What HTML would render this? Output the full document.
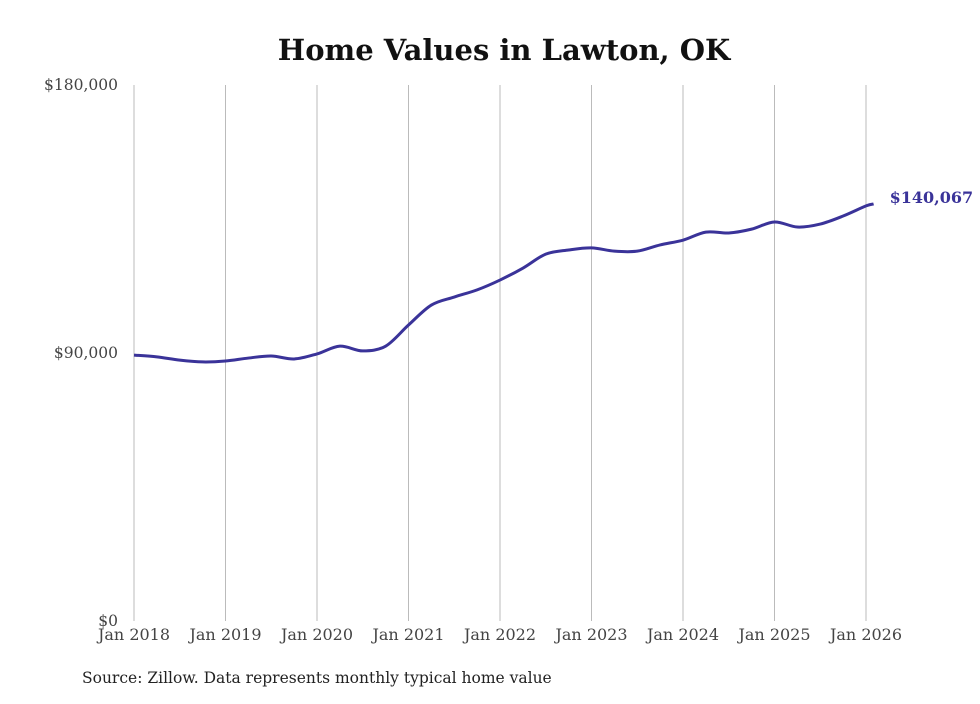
<!DOCTYPE html>
<html><head><meta charset="utf-8"><style>
body{margin:0;background:#fff;}
svg text{font-family:"DejaVu Serif","Liberation Serif",serif;}
</style></head><body>
<svg id="chart" width="980" height="699" viewBox="0 0 980 699" xmlns="http://www.w3.org/2000/svg">
<text x="504" y="60" text-anchor="middle" font-size="29" font-weight="bold" fill="#111">Home Values in Lawton, OK</text>
<g id="grid"></g><g id="yaxis"></g><g id="xaxis"></g>
<path id="line" fill="none" stroke="#3a3399" stroke-width="3" stroke-linejoin="round"/>
<text id="endlabel" font-size="16" font-weight="bold" fill="#3a3399"></text>
<text x="82" y="683" font-size="15.5" fill="#222">Source: Zillow. Data represents monthly typical home value</text>
</svg>
<script>
const dates=[2018,2018.25,2018.5,2018.75,2019,2019.25,2019.5,2019.75,2020,2020.25,2020.5,2020.75,2021,2021.25,2021.5,2021.75,2022,2022.25,2022.5,2022.75,2023,2023.25,2023.5,2023.75,2024,2024.25,2024.5,2024.75,2025,2025.25,2025.5,2025.75,2026,2026.083];
const values=[89300,88700,87600,87000,87300,88300,89000,88000,89700,92300,90700,92300,99400,106100,108800,111200,114500,118500,123200,124600,125300,124200,124200,126300,127900,130600,130300,131600,134000,132300,133300,136000,139400,140067];
const yTicks=[0,90000,180000];
const yTickLabels=["$0","$90,000","$180,000"];
const xTicks=[2018,2019,2020,2021,2022,2023,2024,2025,2026];
const xTickLabels=["Jan 2018","Jan 2019","Jan 2020","Jan 2021","Jan 2022","Jan 2023","Jan 2024","Jan 2025","Jan 2026"];
const NS="http://www.w3.org/2000/svg";
const X=d=>134+(d-2018)*91.5;
const Y=v=>621-v/180000*536;
function mk(t,a,p){const e=document.createElementNS(NS,t);for(const k in a)e.setAttribute(k,a[k]);p.appendChild(e);return e;}
const grid=document.getElementById('grid'),xa=document.getElementById('xaxis'),ya=document.getElementById('yaxis');
xTicks.forEach((d,i)=>{
 const l=mk('line',{x1:X(d),x2:X(d),y1:85,y2:621,stroke:'#bbb','stroke-width':1},grid);
 
 
 const t=mk('text',{x:X(d),y:640,'text-anchor':'middle','font-size':16,fill:'#444'},xa);
 t.textContent=xTickLabels[i];
 
 
});
yTicks.forEach((v,i)=>{
 const t=mk('text',{x:118,y:Y(v)+5,'text-anchor':'end','font-size':15.5,fill:'#444'},ya);
 t.textContent=yTickLabels[i];
 
 
});
const pts=dates.map((d,i)=>[X(d),Y(values[i])]);
let p='M'+pts[0][0]+','+pts[0][1];
for(let i=0;i<pts.length-1;i++){
 const p0=pts[Math.max(0,i-1)],p1=pts[i],p2=pts[i+1],p3=pts[Math.min(pts.length-1,i+2)];
 const c1=[p1[0]+(p2[0]-p0[0])/6,p1[1]+(p2[1]-p0[1])/6],c2=[p2[0]-(p3[0]-p1[0])/6,p2[1]-(p3[1]-p1[1])/6];
 p+=`C${c1[0]},${c1[1]} ${c2[0]},${c2[1]} ${p2[0]},${p2[1]}`;
}
document.getElementById('line').setAttribute('d',p);
const last=pts[pts.length-1],el=document.getElementById('endlabel');
el.setAttribute('x',last[0]+16);el.setAttribute('y',last[1]-1);
el.textContent='$'+values[values.length-1].toLocaleString('en-US');
</script>
</body></html>
